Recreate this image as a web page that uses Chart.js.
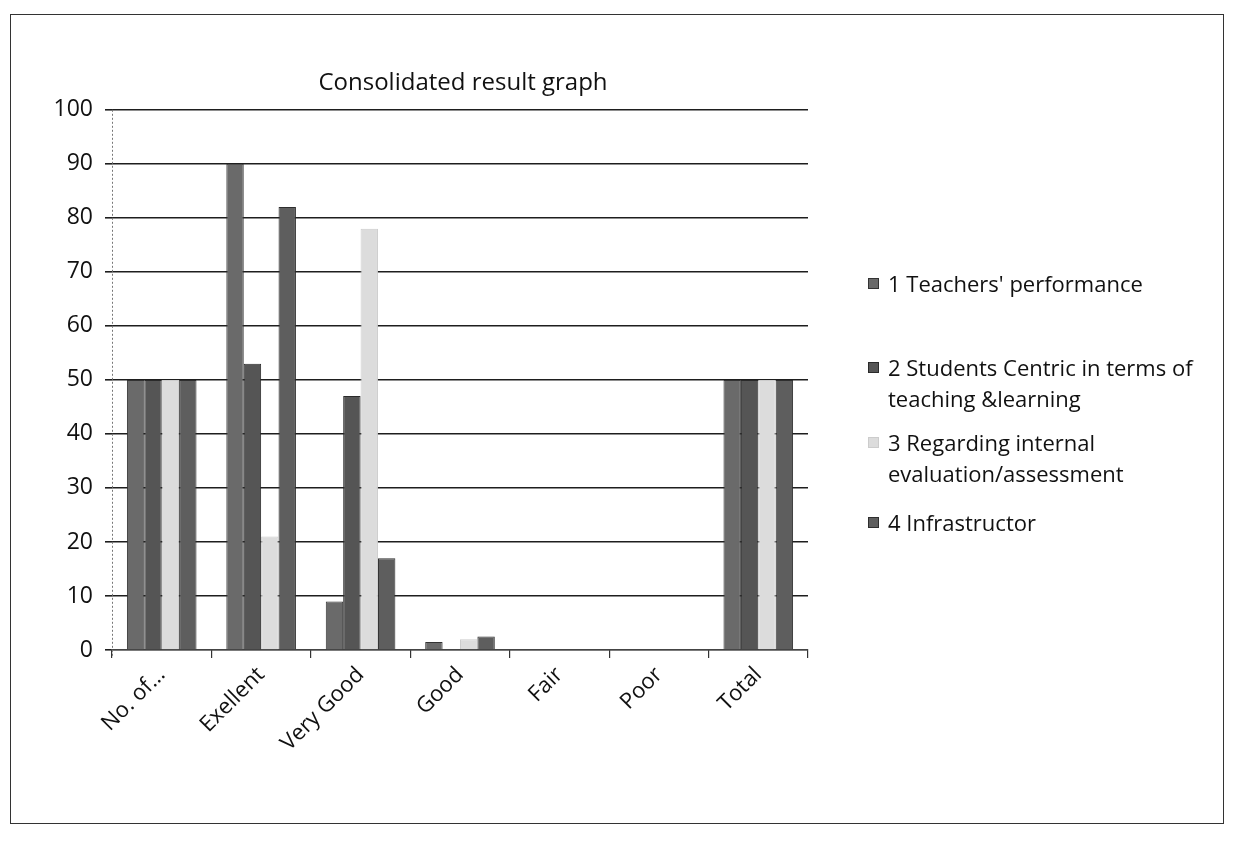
<!DOCTYPE html>
<html>
<head>
<meta charset="utf-8">
<script src="https://cdn.jsdelivr.net/npm/chart.js@4.4.1/dist/chart.umd.min.js"></script>
<style>
  html,body{margin:0;padding:0;background:#fff;}
  body{width:1235px;height:841px;position:relative;overflow:hidden;font-family:"Open Sans",sans-serif;}
  #frame{position:absolute;left:10px;top:14px;width:1214px;height:810px;border:1.5px solid #333;box-sizing:border-box;}
  #wrap{position:absolute;left:10px;top:15px;width:906px;height:810px;}
  #legend{position:absolute;left:868px;top:0;font-family:"Open Sans",sans-serif;font-size:22px;color:#111;}
  .li{position:absolute;left:0;white-space:nowrap;line-height:31px;}
  .sw{position:absolute;left:0;width:11px;height:11px;border:1px solid #333;box-sizing:border-box;}
  .tx{position:absolute;left:20px;}
</style>
</head>
<body>
<div id="frame"></div>
<div id="wrap"><canvas id="c"></canvas></div>
<div id="legend"></div>
<script>
const categories = ["No. of...", "Exellent", "Very Good", "Good", "Fair", "Poor", "Total"];
const seriesNames = [
  ["1 Teachers' performance"],
  ["2 Students Centric in terms of", "teaching &learning"],
  ["3 Regarding internal", "evaluation/assessment"],
  ["4 Infrastructor"]
];
const teachers   = [50, 90, 9, 1.5, 0, 0, 50];
const students   = [50, 53, 47, 0, 0, 0, 50];
const evaluation = [50, 21, 78, 2, 0, 0, 50];
const infra      = [50, 82, 17, 2.5, 0, 0, 50];
const yTicks = [0,10,20,30,40,50,60,70,80,90,100];
const colors = ["#6a6a6a", "#555555", "#dcdcdc", "#5e5e5e"];
const borders = ["#333333", "#2a2a2a", "#cccccc", "#2e2e2e"];

const values = [teachers, students, evaluation, infra];

// HTML legend
const legendTops = [268, 352, 427, 507];
const legend = document.getElementById('legend');
seriesNames.forEach((lines, i) => {
  const d = document.createElement('div');
  d.className = 'li';
  d.style.top = legendTops[i] + 'px';
  const sw = document.createElement('span');
  sw.className = 'sw';
  sw.style.background = colors[i];
  sw.style.borderColor = borders[i];
  sw.style.top = '10px';
  d.appendChild(sw);
  const tx = document.createElement('span');
  tx.className = 'tx';
  tx.innerHTML = lines.map(l => l.replace(/&/g,'&amp;')).join('<br>');
  d.appendChild(tx);
  legend.appendChild(d);
});

// dotted y-axis line
const dottedAxis = {
  id: 'dottedAxis',
  afterDraw(chart) {
    const { ctx, chartArea } = chart;
    ctx.save();
    ctx.strokeStyle = '#777';
    ctx.lineWidth = 1;
    ctx.setLineDash([2, 2]);
    ctx.beginPath();
    ctx.moveTo(chartArea.left + 0.5, chartArea.top);
    ctx.lineTo(chartArea.left + 0.5, chartArea.bottom + 6);
    ctx.stroke();
    ctx.restore();
  }
};

new Chart(document.getElementById('c'), {
  type: 'bar',
  data: {
    labels: categories,
    datasets: values.map((v, i) => ({
      label: seriesNames[i].join(' '),
      data: v,
      backgroundColor: colors[i],
      borderColor: borders[i],
      borderWidth: 1,
      categoryPercentage: 0.7,
      barPercentage: 1.0
    }))
  },
  plugins: [dottedAxis],
  options: {
    responsive: true,
    maintainAspectRatio: false,
    animation: false,
    layout: { padding: 0 },
    plugins: {
      legend: { display: false },
      tooltip: { enabled: false },
      title: {
        display: true,
        text: 'Consolidated result graph',
        color: '#111',
        font: { family: 'Open Sans', size: 24, weight: 'normal', lineHeight: 1.2 },
        padding: { top: 54, bottom: 12 }
      }
    },
    scales: {
      x: {
        afterFit: (s) => { s.height = 175; },
        grid: { display: true, drawOnChartArea: false, drawTicks: true, tickLength: 8, color: '#333', lineWidth: 1.2 },
        border: { display: true, color: '#444', width: 1.2 },
        ticks: {
          color: '#111',
          font: { family: 'Open Sans', size: 22 },
          maxRotation: 45, minRotation: 45, autoSkip: false, padding: 4
        }
      },
      y: {
        min: 0, max: 100,
        afterFit: (s) => { s.width = 102; },
        afterBuildTicks: (s) => { s.ticks = yTicks.map(v => ({ value: v })); },
        grid: { color: '#1e1e1e', lineWidth: 1.6, tickLength: 7, drawTicks: true },
        border: { display: false },
        ticks: {
          color: '#111',
          font: { family: 'Open Sans', size: 23 },
          padding: 12
        }
      },
      yRight: {
        position: 'right',
        min: 0, max: 100,
        afterFit: (s) => { s.width = 108; },
        grid: { display: false },
        border: { display: false },
        ticks: { display: false }
      }
    }
  }
});
</script>
</body>
</html>
